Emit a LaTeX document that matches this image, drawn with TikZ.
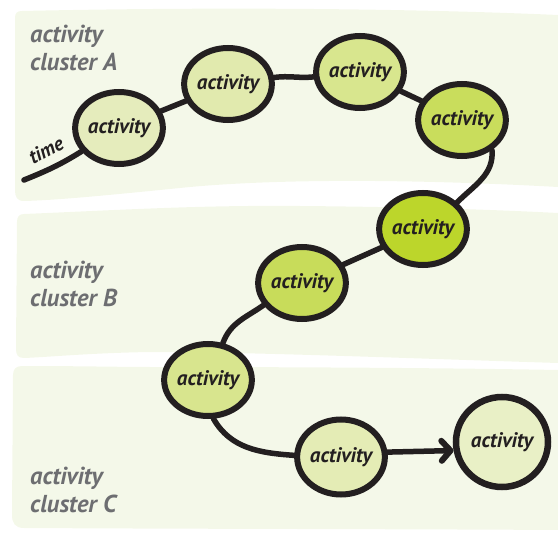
\documentclass[tikz,border=0pt]{standalone}
\usepackage{fontspec}
\setmainfont{PT Sans}
\usetikzlibrary{shapes.geometric,arrows.meta}
\definecolor{band}{HTML}{F4F8E9}
\definecolor{ink}{HTML}{231F20}
\definecolor{labgray}{HTML}{6D6E71}
\definecolor{fa}{HTML}{E5ECBC}
\definecolor{fb}{HTML}{E1EAAE}
\definecolor{fc}{HTML}{D8E68E}
\definecolor{fd}{HTML}{C9DD5C}
\definecolor{fe}{HTML}{BCD62B}
\definecolor{ff}{HTML}{C8DC5A}
\definecolor{fg}{HTML}{D8E58E}
\definecolor{fh}{HTML}{E4ECB5}
\definecolor{fi}{HTML}{E9F0C6}
\tikzset{
  act/.style={ellipse, draw=ink, line width=6pt, inner sep=0pt,
    minimum width=78pt, minimum height=72pt,
    font=\fontsize{21}{24}\selectfont\bfseries\itshape, text=ink},
  link/.style={draw=ink, line width=5.5pt, line cap=round},
  clab/.style={align=left, anchor=west, text=labgray,
    font=\fontsize{24.5}{27.5}\selectfont\bfseries\itshape, inner sep=0pt}
}
\begin{document}
\begin{tikzpicture}[x=1pt,y=-1pt]
\useasboundingbox (0,0) rectangle (558,535);
% bands
\fill[band] (22,11) .. controls (200,7) and (400,8) .. (558,15) -- (558,187)
  .. controls (450,181) and (300,177) .. (190,187)
  .. controls (110,195) and (60,200) .. (24,201)
  .. controls (17,201) and (15,197) .. (15,190) -- (15,18)
  .. controls (15,13) and (17,11) .. (22,11) -- cycle;
\fill[band] (24,214) .. controls (120,210) and (200,205) .. (300,206)
  .. controls (420,207) and (500,210) .. (558,213) -- (558,363)
  .. controls (400,358) and (250,352) .. (150,352)
  .. controls (90,353) and (50,357) .. (24,358)
  .. controls (18,358) and (16,355) .. (16,349) -- (17,222)
  .. controls (17,217) and (19,214) .. (24,214) -- cycle;
\fill[band] (22,366) .. controls (80,366) and (120,367) .. (150,367)
  .. controls (300,367) and (450,368) .. (558,370) -- (558,530)
  .. controls (400,529) and (200,529) .. (24,528)
  .. controls (15,528) and (12,523) .. (12,515) -- (13,375)
  .. controls (13,369) and (16,366) .. (22,366) -- cycle;
% cluster labels
\node[clab] (la) at (30,48) {activity\\cluster A};
\node[clab] (lb) at (30,284) {activity\\cluster B};
\node[clab] (lc) at (30,490) {activity\\cluster C};
% activities
\node[act, fill=fa] (n1) at (119,128) {activity};
\node[act, fill=fb, minimum width=80pt] (n2) at (228,84) {activity};
\node[act, fill=fc] (n3) at (360,72) {activity};
\node[act, fill=fd] (n4) at (462,120) {activity};
\node[act, fill=fe, minimum width=80pt] (n5) at (423,229) {activity};
\node[act, fill=ff] (n6) at (302,283) {activity};
\node[act, fill=fg, minimum width=80pt] (n7) at (208,380) {activity};
\node[act, fill=fh, minimum height=75pt] (n8) at (341,457) {activity};
\node[act, fill=fi, minimum width=92pt, minimum height=90pt, line width=6.5pt] (n9) at (502,442) {activity};
% time
\coordinate (t0) at (24,180);
\node[rotate=28, text=ink, font=\fontsize{20}{22}\selectfont\bfseries\itshape, inner sep=0pt] (tl) at (46,150) {time};
% connectors
\draw[link] (t0) to[out=22,in=212] (n1.212);
\draw[link] (n1) -- (n2);
\draw[link] (n2) to[out=8,in=186] (n3);
\draw[link] (n3) -- (n4);
\draw[link] (n4.-45) to[out=-85,in=45] (n5.38);
\draw[link] (n5) -- (n6);
\draw[link] (n6.210) to[out=215,in=70] (n7.68);
\draw[link] (n7.-82) to[out=-60,in=176] (n8.178);
\draw[link, -{Straight Barb[length=9pt,width=20pt,line width=6pt,round]}] (n8.6) -- (n9.190);
\end{tikzpicture}
\end{document}
